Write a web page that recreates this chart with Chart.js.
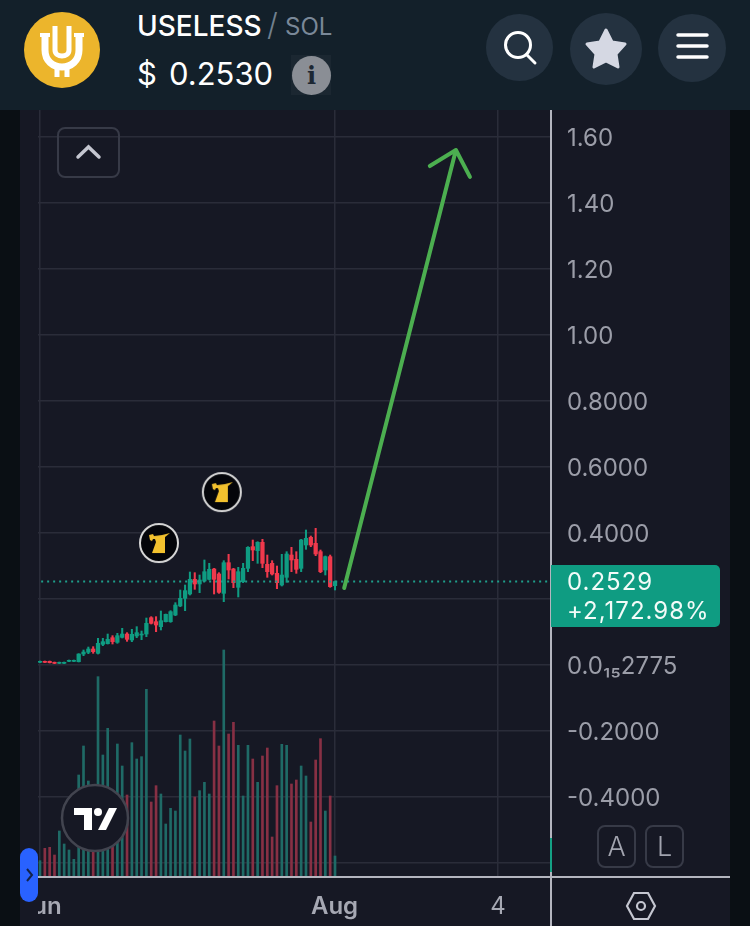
<!DOCTYPE html>
<html>
<head>
<meta charset="utf-8">
<title>USELESS / SOL</title>
<script src="https://cdn.jsdelivr.net/npm/chart.js@4"></script>
<style>
  html, body { margin: 0; padding: 0; background: #0a0f14; }
  body { width: 750px; height: 926px; position: relative; overflow: hidden; font-family: Inter, sans-serif; }
  .abs { position: absolute; }
  #panel { left: 20px; top: 110px; width: 710px; height: 816px; background: #161824; }
  #header { left: 0; top: 0; width: 750px; height: 110px; background: #13202a; }
  #chart { position: absolute; left: 38px; top: 110px; }
  .round { border-radius: 50%; background: #243240; }
  .btn { box-sizing: border-box; border: 2px solid #373a47; border-radius: 8px; color: #a2a4af; text-align: center; }
</style>
</head>
<body>
<div class="abs" id="panel"></div>
<canvas id="chart" width="692" height="816"></canvas>

<!-- axis frame -->
<div class="abs" style="left:38px;top:876px;width:692px;height:2px;background:#b4b5bf"></div>
<div class="abs" style="left:550px;top:110px;width:2px;height:816px;background:#b4b5bf"></div>
<div class="abs" style="left:550px;top:838px;width:2px;height:34px;background:#14a085"></div>

<!-- header -->
<div class="abs" id="header"></div>
<svg class="abs" style="left:24px;top:12px" width="76" height="76" viewBox="0 0 76 76">
  <circle cx="38" cy="38" r="38" fill="#ecb52c"/>
  <path d="M16 23 H26 M50 23 H60" stroke="#fff" stroke-width="4"/>
  <path d="M21 22 V38 C21 49 29 55 38 55 C47 55 55 49 55 38 V22" fill="none" stroke="#fff" stroke-width="7"/>
  <path d="M31 14 V38 C31 46 45 46 45 38 V14" fill="none" stroke="#fff" stroke-width="5"/>
  <path d="M33 54 V65 M43 54 V65" stroke="#fff" stroke-width="5"/>
</svg>
<div class="abs" style="left:137px;top:8px;font-size:28px;font-weight:500;color:#fff;line-height:36px">USELESS</div>
<div class="abs" style="left:267px;top:6px;font-size:31px;font-weight:300;color:#72808f;line-height:38px">/</div>
<div class="abs" style="left:285px;top:10px;font-size:24px;font-weight:400;color:#7a8898;line-height:34px">SOL</div>
<div class="abs" style="left:137px;top:55px;font-size:31px;font-weight:400;color:#fff;line-height:38px">$</div>
<div class="abs" style="left:169px;top:55px;font-size:31px;font-weight:400;color:#fff;line-height:38px">0.2530</div>
<div class="abs" style="left:291px;top:55px;width:40px;height:40px;background:#1b2731"></div>
<div class="abs" style="left:292px;top:56px;width:39px;height:39px;border-radius:50%;background:#8a8e95;color:#1c2733;font:bold 24px/39px 'DejaVu Serif',serif;text-align:center">i</div>

<div class="abs round" style="left:486px;top:14px;width:67px;height:67px"></div>
<svg class="abs" style="left:486px;top:14px" width="67" height="67" viewBox="0 0 67 67">
  <circle cx="32" cy="31" r="12.5" fill="none" stroke="#fff" stroke-width="3"/>
  <path d="M41 41 L49 49" stroke="#fff" stroke-width="3" stroke-linecap="round"/>
</svg>
<div class="abs round" style="left:570px;top:13px;width:72px;height:72px"></div>
<svg class="abs" style="left:570px;top:13px" width="72" height="72" viewBox="0 0 72 72">
  <path d="M36 17 L42 29 L55 31 L46 41 L48 54 L36 48 L24 54 L26 41 L17 31 L30 29 Z" fill="#d5d8e3" stroke="#d5d8e3" stroke-width="3" stroke-linejoin="round"/>
</svg>
<div class="abs round" style="left:658px;top:14px;width:68px;height:68px"></div>
<svg class="abs" style="left:658px;top:14px" width="68" height="68" viewBox="0 0 68 68">
  <path d="M20 21 H49 M20 32 H49 M20 43 H49" stroke="#fff" stroke-width="3.5" stroke-linecap="round"/>
</svg>

<!-- chart widgets -->
<div class="abs btn" style="left:57px;top:127px;width:63px;height:51px"></div>
<svg class="abs" style="left:57px;top:127px" width="63" height="51" viewBox="0 0 63 51">
  <path d="M21 30 L31.5 20 L42 30" fill="none" stroke="#c4c6d0" stroke-width="3.5" stroke-linecap="round"/>
</svg>

<div class="abs" style="left:551px;top:565px;width:169px;height:62px;background:#0f9c82;border-radius:0 5px 5px 0"></div>
<div class="abs" style="left:567px;top:567px;font-size:24px;color:#f2fbf8;line-height:30px;letter-spacing:1px">0.2529</div>
<div class="abs" style="left:567px;top:596px;font-size:24px;color:#f2fbf8;line-height:30px;letter-spacing:1px">+2,172.98%</div>

<svg class="abs" style="left:60px;top:783px" width="70" height="70" viewBox="0 0 70 70">
  <circle cx="35" cy="35" r="33" fill="#161824" stroke="#42444f" stroke-width="2.5"/>
  <path d="M14 25 H32 V47 H24 V32 H14 Z" fill="#fff"/>
  <circle cx="38" cy="29" r="4" fill="#fff"/>
  <path d="M49 25 H57 L46 47 H38 Z" fill="#fff"/>
</svg>

<div class="abs" style="left:20px;top:848px;width:18px;height:54px;border-radius:9px;background:#2962ff"></div>
<svg class="abs" style="left:20px;top:848px" width="18" height="54" viewBox="0 0 18 54">
  <path d="M7 21 L12 27 L7 33" fill="none" stroke="#12224a" stroke-width="2"/>
</svg>

<div class="abs btn" style="left:597px;top:825px;width:39px;height:43px;font-size:27px;line-height:39px;font-weight:300">A</div>
<div class="abs btn" style="left:645px;top:825px;width:39px;height:43px;font-size:27px;line-height:39px;font-weight:300">L</div>
<svg class="abs" style="left:624px;top:890px" width="34" height="32" viewBox="0 0 34 32">
  <path d="M10 3 H24 L31 16 L24 29 H10 L3 16 Z" fill="none" stroke="#c4c6d0" stroke-width="2.2"/>
  <circle cx="17" cy="16" r="4" fill="none" stroke="#c4c6d0" stroke-width="2.2"/>
</svg>

<script>
// candles
const opens = [.0081,.0111,.0111,.0081,.0051,.0051,.0111,.0111,.0101,.0333,.0384,.0485,.0354,.0626,.0646,.0828,.0687,.0838,.0939,.0758,.0879,.0909,.0939,.1434,.1313,.1162,.1313,.1313,.1515,.1788,.2020,.2152,.2596,.2455,.2545,.2596,.2909,.2758,.2172,.3101,.2909,.2354,.2525,.2929,.3586,.3465,.3717,.3051,.3081,.2778,.2424,.2657,.3333,.3202,.2929,.3636,.3869,.3687,.3434,.2879,.3283,.2404];
const closes = [.0111,.0081,.0071,.0051,.0081,.0081,.0141,.0141,.0333,.0394,.0485,.0404,.0657,.0707,.0778,.0707,.0889,.0939,.0778,.0929,.0980,.0939,.1263,.1263,.1212,.1343,.1535,.1616,.1818,.2020,.2253,.2596,.2455,.2576,.2828,.2899,.2596,.2202,.3101,.2879,.2495,.2828,.2929,.3566,.3485,.3717,.3081,.2828,.2758,.2495,.2727,.3364,.3182,.2899,.3788,.3838,.3636,.3364,.2828,.3283,.2374,.2529];
const highs = [.0121,.0121,.0121,.0091,.0091,.0091,.0151,.0151,.0343,.0455,.0545,.0556,.0808,.0808,.0939,.0889,.0960,.1111,.0980,.1081,.1162,.1030,.1424,.1465,.1465,.1636,.1545,.1646,.1889,.2273,.2424,.2818,.2798,.2727,.3182,.3081,.2929,.2798,.3162,.3354,.2929,.2960,.3081,.3586,.3788,.3737,.3808,.3333,.3162,.3000,.3354,.3434,.3566,.3434,.3808,.4091,.3909,.4141,.3485,.3303,.3333,.2545];
const lows = [.0071,.0071,.0061,.0041,.0041,.0041,.0101,.0101,.0091,.0283,.0343,.0354,.0333,.0586,.0636,.0636,.0657,.0818,.0717,.0707,.0828,.0768,.0859,.1242,.1010,.1061,.1303,.1293,.1495,.1768,.1646,.2121,.2293,.2192,.2525,.2576,.2152,.2172,.1919,.2606,.2343,.2061,.2495,.2828,.3162,.3081,.2949,.2657,.2727,.2313,.2394,.2505,.2828,.2778,.2828,.3505,.3586,.3313,.2798,.2727,.2354,.2273];

// volume, arbitrary units
const volumes = [49,86,89,66,138,99,81,53,306,393,288,151,601,366,446,191,399,333,246,403,354,361,563,225,274,249,159,206,198,426,378,414,240,259,284,249,468,393,681,429,464,395,243,395,354,284,363,387,120,274,398,395,279,291,333,303,165,351,415,198,243,63];

const lastPrice = [0.2529];
const priceTicks = [1.6, 1.4, 1.2, 1.0, 0.8, 0.6, 0.4, 0.2, 0, -0.2, -0.4, -0.6];
const priceLabels = ['1.60', '1.40', '1.20', '1.00', '0.8000', '0.6000', '0.4000', '', '0.0₁₅2775', '-0.2000', '-0.4000', ''];
const timeTicks = [0, 60.9, 94.7];
const timeLabels = ['Jun', 'Aug', '4'];

// drawn arrow and the two event markers, in bar index / price
const arrowX = [62.9, 86.0, 80.6, 86.0, 88.9];
const arrowY = [0.2333, 1.5606, 1.512, 1.5606, 1.479];
const eventX = [24.6, 37.6];
const eventY = [0.3697, 0.524];

const GREEN = '#0f9c82', RED = '#f0394c';
const index = opens.map((_, i) => i);
const isUp = i => closes[i] >= opens[i];

// event marker icon
function makeMarker() {
  const c = document.createElement('canvas');
  c.width = 42; c.height = 42;
  const g = c.getContext('2d');
  g.beginPath();
  g.arc(21, 21, 19, 0, Math.PI * 2);
  g.fillStyle = '#04050a';
  g.fill();
  g.lineWidth = 2;
  g.strokeStyle = '#d8d8d8';
  g.stroke();
  g.fillStyle = '#f2c12e';
  g.beginPath();
  g.moveTo(11, 13); g.lineTo(15, 12); g.lineTo(16, 14); g.lineTo(24, 13); g.lineTo(32, 11);
  g.lineTo(27, 15); g.lineTo(27, 31); g.lineTo(14, 31); g.lineTo(18, 20); g.lineTo(17, 17);
  g.lineTo(15, 17); g.lineTo(14, 19); g.lineTo(12, 18);
  g.closePath();
  g.fill();
  return c;
}
const marker = makeMarker();

Chart.defaults.font.family = 'Inter, sans-serif';

new Chart(document.getElementById('chart').getContext('2d'), {
  type: 'bar',
  data: {
    datasets: [
      {
        label: 'Volume',
        yAxisID: 'yVol',
        order: 5,
        data: index.map(i => ({ x: i, y: volumes[i] })),
        backgroundColor: index.map(i => isUp(i) ? '#1f6a66' : '#873044'),
        barThickness: 2,
        grouped: false
      },
      {
        label: 'Wick',
        yAxisID: 'y',
        order: 4,
        data: index.map(i => ({ x: i, y: [lows[i], highs[i]] })),
        backgroundColor: index.map(i => isUp(i) ? GREEN : RED),
        barThickness: 1.4,
        grouped: false
      },
      {
        label: 'Body',
        yAxisID: 'y',
        order: 3,
        data: index.map(i => ({ x: i, y: [opens[i], closes[i]] })),
        backgroundColor: index.map(i => isUp(i) ? GREEN : RED),
        barThickness: 3.6,
        grouped: false
      },
      {
        type: 'line',
        label: 'Last price',
        yAxisID: 'y',
        order: 2,
        data: [{ x: -1, y: lastPrice[0] }, { x: 106, y: lastPrice[0] }],
        borderColor: '#1f9e8a',
        borderWidth: 2,
        borderDash: [2, 4],
        pointRadius: 0
      },
      {
        type: 'line',
        label: 'Arrow',
        yAxisID: 'y',
        order: 1,
        data: arrowX.map((x, i) => ({ x: x, y: arrowY[i] })),
        borderColor: '#4caf50',
        borderWidth: 4,
        borderCapStyle: 'round',
        borderJoinStyle: 'round',
        pointRadius: 0
      },
      {
        type: 'line',
        label: 'Events',
        yAxisID: 'y',
        order: 0,
        showLine: false,
        data: eventX.map((x, i) => ({ x: x, y: eventY[i] })),
        pointStyle: marker
      }
    ]
  },
  options: {
    responsive: false,
    animation: false,
    events: [],
    layout: { autoPadding: false, padding: 0 },
    plugins: { legend: { display: false }, tooltip: { enabled: false } },
    scales: {
      x: {
        type: 'linear',
        offset: false,
        min: -0.41,
        max: 105.66,
        afterBuildTicks: scale => { scale.ticks = timeTicks.map(v => ({ value: v })); },
        // no padding for the labels, "Jun" is cut by the left edge
        afterFit: scale => { scale.height = 49; scale.paddingLeft = 0; scale.paddingRight = 0; },
        border: { display: false },
        grid: { color: '#2a2c39', lineWidth: 1.5, drawTicks: false, offset: false },
        ticks: {
          autoSkip: false,
          maxRotation: 0,
          padding: 15,
          color: '#a6a8b3',
          font: ctx => ({ size: 24, weight: ctx.index === 2 ? '400' : '600' }),
          callback: (value, i) => timeLabels[i]
        }
      },
      y: {
        position: 'right',
        min: -0.6424,
        max: 1.6818,
        afterBuildTicks: scale => { scale.ticks = priceTicks.map(v => ({ value: v })); },
        afterFit: scale => { scale.width = 179; scale.paddingTop = 0; scale.paddingBottom = 0; },
        border: { display: false },
        grid: { color: '#2a2c39', lineWidth: 1.5, drawTicks: false },
        ticks: {
          autoSkip: false,
          padding: 16,
          labelOffset: 2,
          color: '#9b9da8',
          crossAlign: 'near',
          font: { size: 24 },
          callback: (value, i) => priceLabels[i]
        }
      },
      yVol: {
        display: false,
        min: 0,
        max: 2301
      }
    }
  }
});
</script>
</body>
</html>
